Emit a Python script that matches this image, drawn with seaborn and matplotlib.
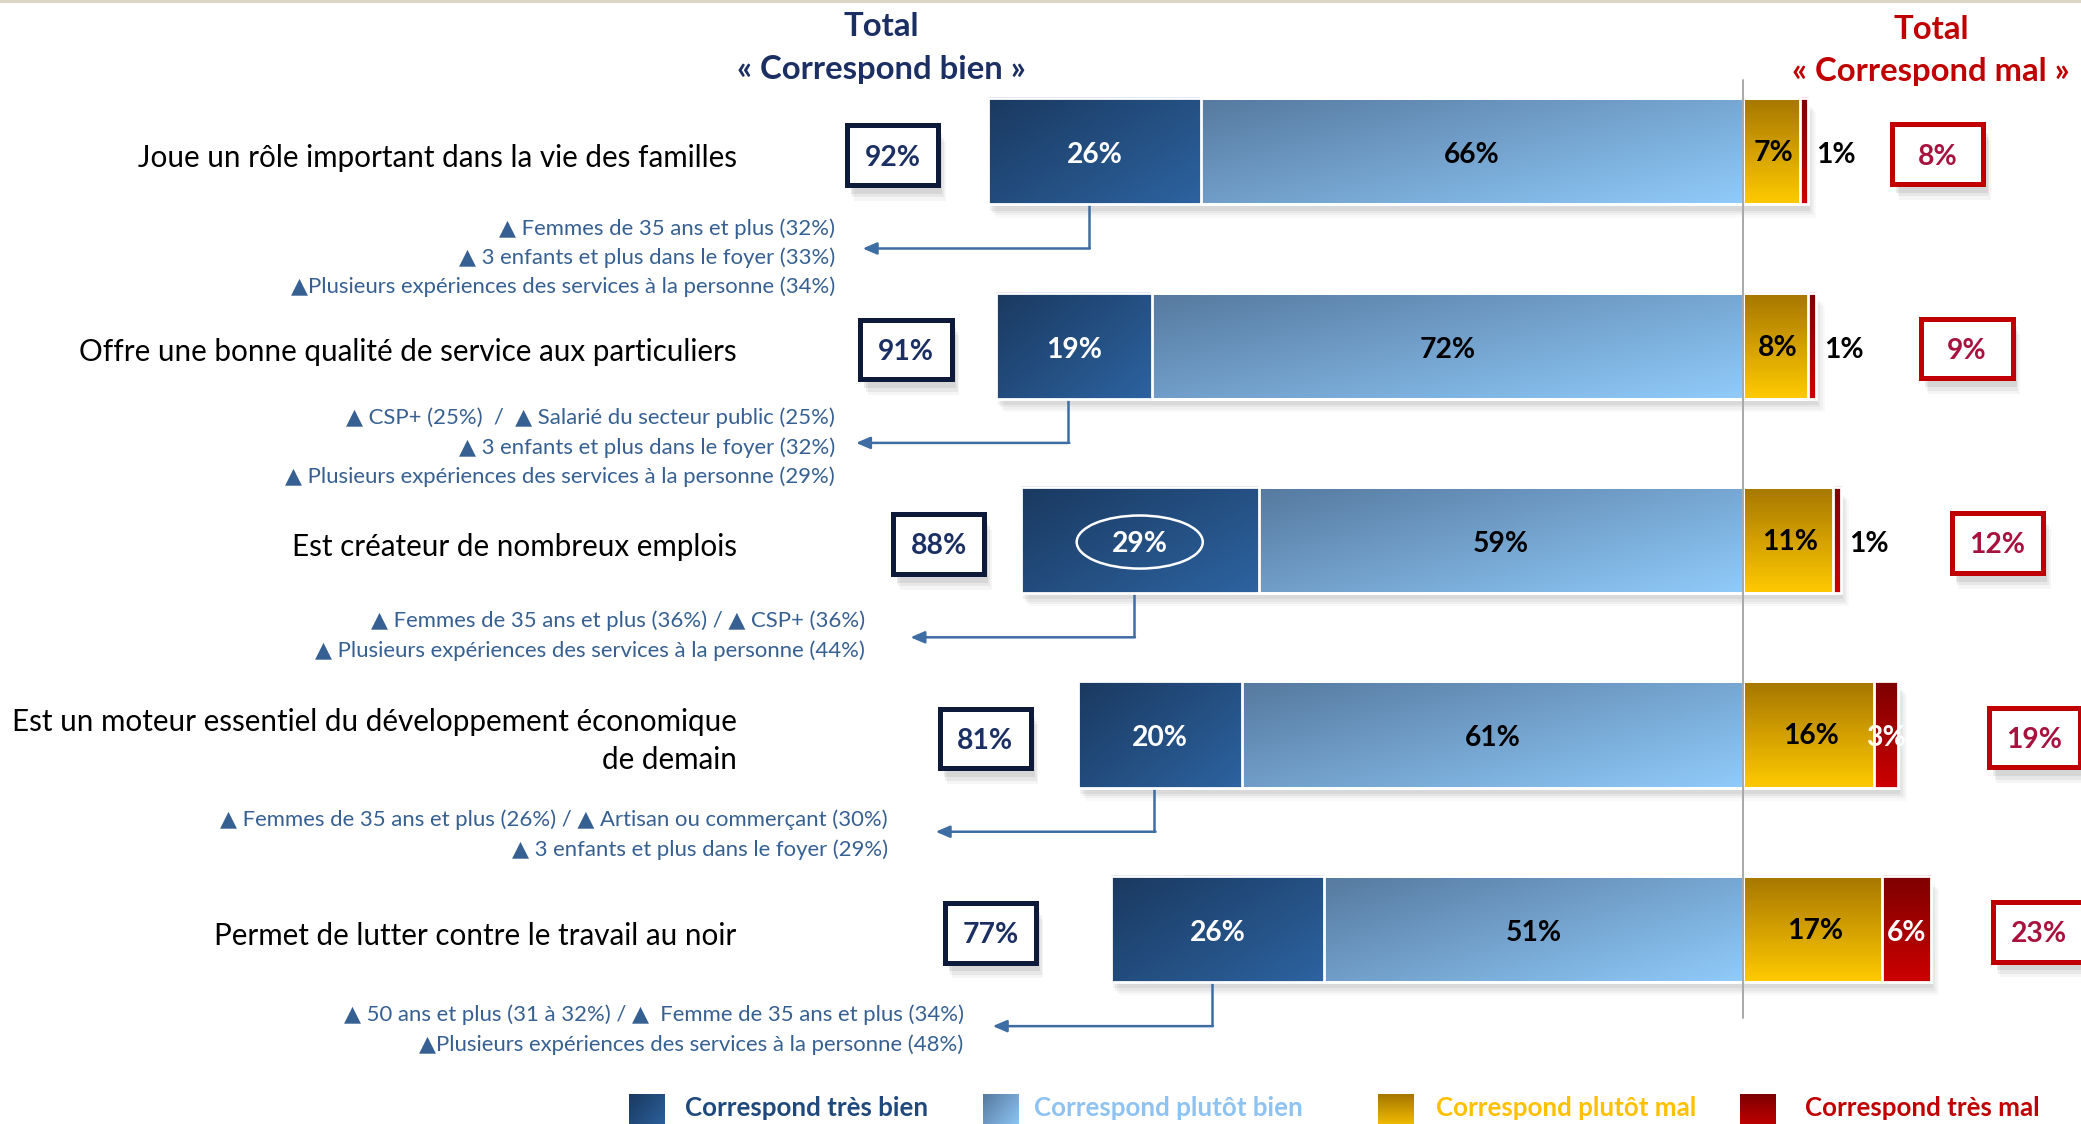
import numpy as np
import pandas as pd
import matplotlib
matplotlib.use("Agg")
import matplotlib.pyplot as plt
import seaborn as sns
from matplotlib.patches import Rectangle, Ellipse
from matplotlib.colors import to_rgb

# ---------------- data ----------------
items = [
    "Joue un rôle important dans la vie des familles",
    "Offre une bonne qualité de service aux particuliers",
    "Est créateur de nombreux emplois",
    "Est un moteur essentiel du développement économique\nde demain",
    "Permet de lutter contre le travail au noir",
]
tres_bien = [26, 19, 29, 20, 26]
plutot_bien = [66, 72, 59, 61, 51]
plutot_mal = [7, 8, 11, 16, 17]
tres_mal = [1, 1, 1, 3, 6]
total_bien = [92, 91, 88, 81, 77]
total_mal = [8, 9, 12, 19, 23]
sub_notes = [
    ["▲ Femmes de 35 ans et plus (32%)",
     "▲ 3 enfants et plus dans le foyer (33%)",
     "▲Plusieurs expériences des services à la personne (34%)"],
    ["▲ CSP+ (25%)  /  ▲ Salarié du secteur public (25%)",
     "▲ 3 enfants et plus dans le foyer (32%)",
     "▲ Plusieurs expériences des services à la personne (29%)"],
    ["▲ Femmes de 35 ans et plus (36%) / ▲ CSP+ (36%)",
     "▲ Plusieurs expériences des services à la personne (44%)"],
    ["▲ Femmes de 35 ans et plus (26%) / ▲ Artisan ou commerçant (30%)",
     "▲ 3 enfants et plus dans le foyer (29%)"],
    ["▲ 50 ans et plus (31 à 32%) / ▲  Femme de 35 ans et plus (34%)",
     "▲Plusieurs expériences des services à la personne (48%)"],
]
legend_labels = ["Correspond très bien", "Correspond plutôt bien",
                 "Correspond plutôt mal", "Correspond très mal"]
header_bien = ["Total", "« Correspond bien »"]
header_mal = ["Total", "« Correspond mal »"]
circled_row = 2

# ---------------- style ----------------
sns.set_theme(style="white")
FONT = ["Lato", "DejaVu Sans"]
plt.rcParams["font.family"] = FONT

NAVY = "#1B2F63"
NAVY_BORDER = "#0E1A3A"
RED = "#C00000"
RED_TXT = "#A8123E"
NOTE = "#376092"
ARROW = "#3D6DA3"
grad_cols = [("#1A3960", "#2D63A0"), ("#56799F", "#90CBFA"),
             ("#A67600", "#FFCA00"), ("#7E0000", "#CC0000")]
flat_cols = ["#24507F", "#74A4D6", "#E0A800", "#B00000"]
legend_txt_cols = ["#1F497D", "#8EC2F0", "#FFC000", "#C00000"]

fig = plt.figure(figsize=(20.81, 11.24), dpi=100)
ax = fig.add_axes([0, 0, 1, 1])
renderer = fig.canvas.get_renderer()

# layout helpers (reference layout measured on a 1568x847 grid)
PXU = 6.18      # grid px per percentage point
XZ = 1313       # zero line
RY = 146.5      # row spacing
YZ = 114        # first row centre
GRID = 2081 / 1568
def X(xd): return (xd - XZ) / PXU
def Y(yd): return (yd - YZ) / RY
H = 80 / RY

def fit_size(sample, target_w, weight="normal", base=20):
    t = fig.text(0, 0, sample, fontsize=base, fontweight=weight, family=FONT)
    w = t.get_window_extent(renderer).width
    t.remove()
    return base * target_w * GRID / w

FS_LABEL = fit_size(items[0], 453)
FS_NOTE = fit_size(sub_notes[0][2], 413)
FS_HEAD = fit_size(header_bien[1], 218, "bold")
FS_VAL = fit_size("66%", 42, "bold")
FS_LEG = fit_size(legend_labels[0], 183, "bold")

df = pd.DataFrame({"item": items, "tb": tres_bien, "pb": plutot_bien,
                   "pm": plutot_mal, "tm": tres_mal})
df["bien_full"] = -(df.tb + df.pb)
df["bien_pb"] = -df.pb
df["mal_full"] = df.pm + df.tm
df["mal_pm"] = df.pm

# ---------------- stacked bars via seaborn ----------------
order_cols = ["bien_full", "bien_pb", "mal_full", "mal_pm"]
col_colors = [flat_cols[0], flat_cols[1], flat_cols[3], flat_cols[2]]
for col, c in zip(order_cols, col_colors):
    sns.barplot(data=df, x=col, y="item", orient="h", color=c, width=H,
                saturation=1, ax=ax, zorder=2)

conts = ax.containers
def bb(p):
    x = p.get_x(); w = p.get_width(); y = p.get_y(); h = p.get_height()
    return min(x, x + w), max(x, x + w), min(y, y + h), max(y, y + h)

def gradient(x0, x1, y0, y1, c0, c1, mode="diag", z=2.5):
    n = 80
    u = np.linspace(0, 1, n)
    if mode == "diag":
        t = 0.55 * u[None, :] + 0.45 * u[:, None]
    else:
        t = np.repeat(u[:, None], n, axis=1)
    a = np.array(to_rgb(c0)); b = np.array(to_rgb(c1))
    img = a + (b - a) * t[..., None]
    ax.imshow(img, extent=(x0, x1, y1, y0), origin="upper", aspect="auto",
              zorder=z, interpolation="bilinear")

segs = []
for i in range(len(items)):
    f0 = bb(conts[0][i]); f1 = bb(conts[1][i])
    m0 = bb(conts[2][i]); m1 = bb(conts[3][i])
    y0, y1 = f0[2], f0[3]
    s = [(f0[0], f1[0]), (f1[0], f1[1]), (m1[0], m1[1]), (m1[1], m0[1])]
    segs.append((s, y0, y1))
    gradient(*s[0], y0, y1, *grad_cols[0], "diag")
    gradient(*s[1], y0, y1, *grad_cols[1], "diag")
    gradient(*s[2], y0, y1, *grad_cols[2], "vert")
    gradient(*s[3], y0, y1, *grad_cols[3], "vert")
    # soft drop shadow
    for k, a in enumerate([0.10, 0.08, 0.06, 0.04]):
        d = 0.012 * (k + 1)
        ax.add_patch(Rectangle((s[0][0] + 0.25 * (k + 1), y0 + 0.02 + d),
                               s[3][1] - s[0][0], y1 - y0,
                               fc="#707070", ec="none", alpha=a, zorder=1))

for cont in conts:
    for p in cont:
        p.set_facecolor("none")
        p.set_edgecolor("white")
        p.set_linewidth(2.0)
        p.set_zorder(4)

# zero line
ax.plot([0, 0], [Y(60), Y(767)], color="#A8A8A8", lw=1.4, zorder=5)
# top border line
ax.plot([X(0), X(1568)], [Y(1), Y(1)], color="#DCD6C8", lw=3, zorder=5)

# ---------------- value labels ----------------
for i in range(len(items)):
    s, y0, y1 = segs[i]
    yc = (y0 + y1) / 2 + 0.02
    kw = dict(fontsize=FS_VAL, fontweight="bold", ha="center", va="center", zorder=6)
    ax.text((s[0][0] + s[0][1]) / 2, yc, f"{tres_bien[i]}%", color="white", **kw)
    ax.text((s[1][0] + s[1][1]) / 2, yc, f"{plutot_bien[i]}%", color="black", **kw)
    ax.text((s[2][0] + s[2][1]) / 2 + 0.3, yc - 0.01, f"{plutot_mal[i]}%",
            color="black", **kw)
    if tres_mal[i] >= 3:
        ax.text((s[3][0] + s[3][1]) / 2, yc, f"{tres_mal[i]}%", color="white", **kw)
    else:
        ax.text(s[3][1] + 1.0, yc, f"{tres_mal[i]}%", color="black",
                fontsize=FS_VAL, fontweight="bold", ha="left", va="center", zorder=6)

# circled value
s, y0, y1 = segs[circled_row]
ax.add_patch(Ellipse(((s[0][0] + s[0][1]) / 2, (y0 + y1) / 2 + 0.01), 95 / PXU, 40 / RY,
                     fill=False, ec="white", lw=1.8, zorder=6))

# ---------------- headers ----------------
hk = dict(fontsize=FS_HEAD, fontweight="bold", ha="center", va="center")
ax.text(X(664), Y(20), header_bien[0], color=NAVY, **hk)
ax.text(X(664), Y(52), header_bien[1], color=NAVY, **hk)
ax.text(X(1455), Y(22), header_mal[0], color=RED, **hk)
ax.text(X(1455), Y(54), header_mal[1], color=RED, **hk)

# ---------------- category labels ----------------
for i, lab in enumerate(items):
    ax.text(X(555), i + 0.035, lab, color="black", fontsize=FS_LABEL, ha="right",
            va="center", linespacing=1.45, multialignment="right")

# ---------------- total boxes ----------------
bien_box_gap = [11.65, 11.0, 10.03, 11.33, 14.72]          # layout: gap from bar start
mal_box_x = [X(1460), X(1482), X(1505), X(1533), X(1536)]  # layout
BW, BH = 69 / PXU, 45 / RY

def box(cx, cy, txt, ec, tc):
    for k, a in enumerate([0.12, 0.09, 0.06]):
        d = 1.0 + 0.4 * k
        ax.add_patch(Rectangle((cx - BW / 2 + d * 0.5, cy - BH / 2 + d * 0.045),
                               BW, BH, fc="#606060", ec="none", alpha=a, zorder=6))
    ax.add_patch(Rectangle((cx - BW / 2, cy - BH / 2), BW, BH, fc="white", ec=ec,
                           lw=3.6, zorder=7))
    ax.text(cx, cy + 0.012, txt, color=tc, fontsize=FS_VAL, fontweight="bold",
            ha="center", va="center", zorder=8)

for i in range(len(items)):
    box(-total_bien[i] - bien_box_gap[i], i + 0.02, f"{total_bien[i]}%", NAVY_BORDER, NAVY)
    box(mal_box_x[i], i + 0.015, f"{total_mal[i]}%", RED, RED_TXT)

# ---------------- sub-group notes with arrows ----------------
note_right = [629, 629, 652, 669, 726]
note_top = [172, 315, 468, 618, 765]
arrow_tip = [650, 645, 686, 705, 748]
for i, notes in enumerate(sub_notes):
    for j, line in enumerate(notes):
        ax.text(X(note_right[i]), Y(note_top[i] + 22 * j), line, color=NOTE,
                fontsize=FS_NOTE, ha="right", va="center", family=FONT)
    s, y0, y1 = segs[i]
    xc = (s[0][0] + s[0][1]) / 2 - 0.7
    ya = i + 0.5
    ax.plot([xc, xc], [y1, ya], color=ARROW, lw=1.8, zorder=3,
            solid_capstyle="butt")
    ax.annotate("", xy=(X(arrow_tip[i]), ya), xytext=(xc + 0.12, ya),
                arrowprops=dict(arrowstyle="-|>,head_length=0.7,head_width=0.3",
                                color=ARROW, lw=1.8, shrinkA=0, shrinkB=0),
                zorder=3)

# ---------------- legend ----------------
leg_sq_x = [474, 741, 1038, 1311]
leg_txt_x = [516, 779, 1082, 1360]
for k in range(4):
    mode = "diag" if k < 2 else "vert"
    gradient(X(leg_sq_x[k]), X(leg_sq_x[k] + 27), Y(825), Y(852),
             *grad_cols[k], mode, z=3)
    ax.text(X(leg_txt_x[k]), Y(835), legend_labels[k], color=legend_txt_cols[k],
            fontsize=FS_LEG, fontweight="bold", ha="left", va="center")

ax.set_xlim(X(0), X(1568))
ax.set_ylim(Y(847), Y(0))
ax.axis("off")

fig.savefig("out.png", dpi=100)
